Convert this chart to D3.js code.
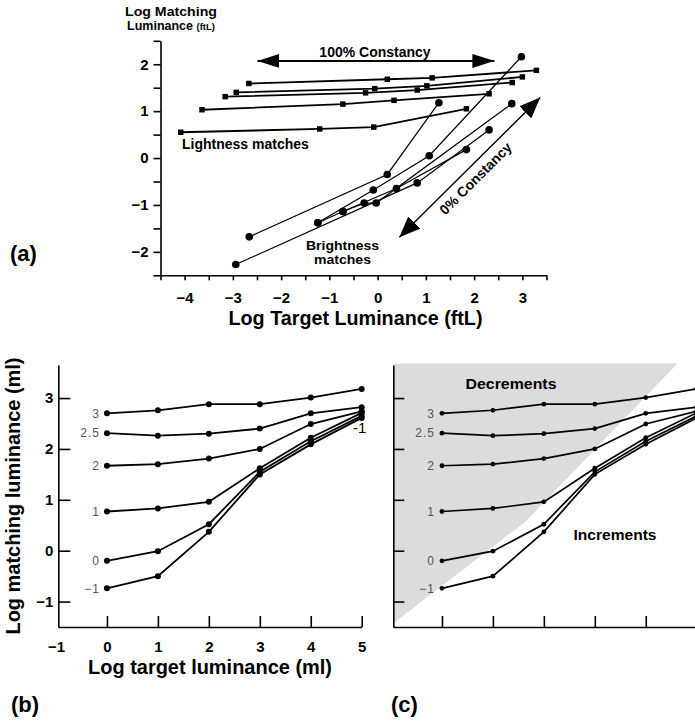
<!DOCTYPE html>
<html>
<head>
<meta charset="utf-8">
<script src="https://cdn.jsdelivr.net/npm/d3@7"></script>
<style>
  body { margin: 0; background: #fff; }
  svg { font-family: "Liberation Sans", Arial, Helvetica, sans-serif; }
</style>
</head>
<body>
<svg id="fig" width="695" height="723"></svg>
<script>
// ---- panel (a): [log target, log match] per run
const lightness1 = [[-4.08, 0.55], [-1.20, 0.62], [-0.08, 0.66], [1.84, 1.05]];
const lightness2 = [[-3.64, 1.03], [-0.72, 1.15], [0.34, 1.23], [2.31, 1.37]];
const lightness3 = [[-3.16, 1.31], [-0.25, 1.39], [0.82, 1.45], [2.79, 1.61]];
const lightness4 = [[-2.93, 1.40], [-0.06, 1.48], [1.02, 1.54], [3.00, 1.73]];
const lightness5 = [[-2.67, 1.59], [0.20, 1.68], [1.13, 1.71], [3.29, 1.87]];

const brightness1 = [[-2.94, -2.27], [0.82, -0.53], [2.31, 0.60]];
const brightness2 = [[-2.66, -1.68], [0.20, -0.35], [1.27, 1.18]];
const brightness3 = [[-1.24, -1.38], [-0.09, -0.68], [1.07, 0.05], [2.98, 2.16]];
const brightness4 = [[-1.24, -1.38], [-0.72, -1.14], [0.39, -0.65], [1.84, 0.18]];
const brightness5 = [[-0.72, -1.14], [-0.28, -0.96], [-0.03, -0.96], [2.78, 1.16]];

const arrow100 = [[-2.49, 2.07], [2.42, 2.07]];
const arrow0 = [[0.45, -1.69], [3.37, 1.29]];

const aTicksX = [-4, -3, -2, -1, 0, 1, 2, 3];
const aMinorX = [-4.5, -3.5, -2.5, -1.5, -0.5, 0.5, 1.5, 2.5, 3.5];
const aTicksY = [-2, -1, 0, 1, 2];
const aMinorY = [-2.5, -1.5, -0.5, 0.5, 1.5, 2.5];

// ---- panels (b) and (c): one curve per background level
const targetLum = [0, 1, 2, 3, 4, 5];
const curveNames = ["3", "2.5", "2", "1", "0", "\u22121"];
const match3 = [2.70, 2.76, 2.88, 2.88, 3.01, 3.18];
const match25 = [2.31, 2.26, 2.30, 2.40, 2.70, 2.82];
const match2 = [1.67, 1.70, 1.81, 2.00, 2.49, 2.74];
const match1 = [0.77, 0.83, 0.96, 1.62, 2.22, 2.71];
const match0 = [-0.20, -0.01, 0.52, 1.55, 2.15, 2.65];
const matchM1 = [-0.74, -0.50, 0.37, 1.50, 2.09, 2.61];

const bTicksX = [-1, 0, 1, 2, 3, 4, 5];
const bTicksY = [-1, 0, 1, 2, 3];
// shaded "decrements" region of (c)
const decrementZone = [[-0.95, 3.68], [4.62, 3.68], [1.64, 0.57], [-0.92, -1.40], [-0.95, -1.45]];

const svg = d3.select("#fig");
const fmt = d3.format("d");

function styleAxis(g, w, size) {
  g.attr("font-family", null).attr("font-size", size);
  g.select(".domain").attr("stroke", "#000").attr("stroke-width", w);
  g.selectAll(".tick line").attr("stroke", "#000").attr("stroke-width", w);
  g.selectAll(".tick text").attr("fill", "#000").attr("font-weight", "bold");
}

// arrow heads
const defs = svg.append("defs");
defs.append("marker").attr("id", "headH")
  .attr("viewBox", "0 0 22 14").attr("refX", 22).attr("refY", 7)
  .attr("markerWidth", 22).attr("markerHeight", 14)
  .attr("markerUnits", "userSpaceOnUse").attr("orient", "auto-start-reverse")
  .append("path").attr("d", "M0,0L22,7L0,14Z").attr("fill", "#000");
defs.append("marker").attr("id", "headD")
  .attr("viewBox", "0 0 21 17").attr("refX", 21).attr("refY", 8.5)
  .attr("markerWidth", 21).attr("markerHeight", 17)
  .attr("markerUnits", "userSpaceOnUse").attr("orient", "auto-start-reverse")
  .append("path").attr("d", "M0,0L21,8.5L0,17Z").attr("fill", "#000");

// ================= (a) =================
const xa = d3.scaleLinear().domain([-4.5, 3.5]).range([160.5, 546.5]);
const ya = d3.scaleLinear().domain([-2.5, 2.5]).range([275.3, 40.8]);
const ga = svg.append("g");

ga.append("g").attr("transform", "translate(0," + ya(-2.5) + ")")
  .call(d3.axisBottom(xa).tickValues(aTicksX.concat(aMinorX)).tickSize(5).tickSizeOuter(0)
    .tickPadding(12).tickFormat(d => aTicksX.includes(d) ? fmt(d) : ""))
  .call(g => styleAxis(g, 1.6, 15));
ga.append("g").attr("transform", "translate(" + xa(-4.5) + ",0)")
  .call(d3.axisLeft(ya).tickValues(aTicksY.concat(aMinorY)).tickSize(7).tickSizeOuter(0)
    .tickPadding(5).tickFormat(d => aTicksY.includes(d) ? fmt(d) : ""))
  .call(g => styleAxis(g, 1.6, 15));

const lineA = d3.line().x(d => xa(d[0])).y(d => ya(d[1]));

[lightness1, lightness2, lightness3, lightness4, lightness5].forEach(run => {
  ga.append("path").attr("d", lineA(run)).attr("fill", "none")
    .attr("stroke", "#000").attr("stroke-width", 1.8);
  ga.selectAll(null).data(run).enter().append("path")
    .attr("d", d3.symbol(d3.symbolSquare, 30))
    .attr("transform", d => "translate(" + xa(d[0]) + "," + ya(d[1]) + ")")
    .attr("fill", "#000");
});

[brightness1, brightness2, brightness3, brightness4, brightness5].forEach(run => {
  ga.append("path").attr("d", lineA(run)).attr("fill", "none")
    .attr("stroke", "#000").attr("stroke-width", 1.2);
  ga.selectAll(null).data(run).enter().append("circle")
    .attr("cx", d => xa(d[0])).attr("cy", d => ya(d[1])).attr("r", 3.8)
    .attr("fill", "#000");
});

ga.append("path").attr("d", lineA(arrow100)).attr("stroke", "#000").attr("stroke-width", 2)
  .attr("marker-start", "url(#headH)").attr("marker-end", "url(#headH)");
ga.append("path").attr("d", lineA(arrow0)).attr("stroke", "#000").attr("stroke-width", 1.4)
  .attr("marker-start", "url(#headD)").attr("marker-end", "url(#headD)");

ga.append("text").attr("x", 375).attr("y", 57).attr("text-anchor", "middle")
  .attr("font-size", 14).attr("font-weight", "bold").text("100% Constancy");
ga.append("text").attr("x", 182).attr("y", 148.5)
  .attr("font-size", 14).attr("font-weight", "bold").text("Lightness matches");
ga.append("text").attr("x", 342.5).attr("y", 250).attr("text-anchor", "middle")
  .attr("font-size", 13).attr("font-weight", "bold")
  .attr("textLength", 73).attr("lengthAdjust", "spacingAndGlyphs").text("Brightness");
ga.append("text").attr("x", 342.5).attr("y", 263.5).attr("text-anchor", "middle")
  .attr("font-size", 13).attr("font-weight", "bold")
  .attr("textLength", 57).attr("lengthAdjust", "spacingAndGlyphs").text("matches");
ga.append("text").attr("transform", "translate(479,182) rotate(-45)").attr("text-anchor", "middle")
  .attr("font-size", 14).attr("font-weight", "bold").text("0% Constancy");

ga.append("text").attr("x", 171).attr("y", 15.5).attr("text-anchor", "middle")
  .attr("font-size", 12.5).attr("font-weight", "bold")
  .attr("textLength", 92).attr("lengthAdjust", "spacingAndGlyphs").text("Log Matching");
const t2 = ga.append("text").attr("x", 171).attr("y", 30).attr("text-anchor", "middle")
  .attr("font-size", 12.5).attr("font-weight", "bold");
t2.append("tspan").text("Luminance ");
t2.append("tspan").attr("font-size", 9.5).text("(ftL)");

ga.append("text").attr("x", 355.5).attr("y", 325).attr("text-anchor", "middle")
  .attr("font-size", 20).attr("font-weight", "bold")
  .attr("textLength", 254).attr("lengthAdjust", "spacingAndGlyphs")
  .text("Log Target Luminance (ftL)");
ga.append("text").attr("x", 10).attr("y", 261)
  .attr("font-size", 22).attr("font-weight", "bold").text("(a)");

// ================= (b) and (c) =================
const yb = d3.scaleLinear().domain([-1.5, 3.65]).range([627, 365]);
const curves = [match3, match25, match2, match1, match0, matchM1];

function drawCurves(g, x, r, w) {
  const line = d3.line().x((d, i) => x(targetLum[i])).y(d => yb(d));
  curves.forEach((vals, k) => {
    g.append("path").attr("d", line(vals)).attr("fill", "none")
      .attr("stroke", "#000").attr("stroke-width", w);
    g.selectAll(null).data(vals).enter().append("circle")
      .attr("cx", (d, i) => x(targetLum[i])).attr("cy", d => yb(d)).attr("r", r)
      .attr("fill", "#000");
    g.append("text").attr("x", x(targetLum[0]) - 7).attr("y", yb(vals[0]))
      .attr("dy", "0.36em").attr("text-anchor", "end")
      .attr("font-size", 12).attr("letter-spacing", 1).attr("fill", "#555")
      .text(curveNames[k]);
  });
}

// (b)
const xb = d3.scaleLinear().domain([-0.955, 5]).range([58.3, 361.7]);
const gb = svg.append("g");
gb.append("g").attr("transform", "translate(0," + yb(-1.5) + ")")
  .call(d3.axisBottom(xb).tickValues(bTicksX).tickSizeInner(-11).tickSizeOuter(0)
    .tickPadding(14).tickFormat(fmt))
  .call(g => styleAxis(g, 1.6, 15))
  .call(g => g.selectAll(".tick line").filter(d => d === -1).remove());
gb.append("g").attr("transform", "translate(" + xb(-0.955) + ",0)")
  .call(d3.axisLeft(yb).tickValues(bTicksY).tickSizeInner(-12).tickSizeOuter(0)
    .tickPadding(5).tickFormat(fmt))
  .call(g => styleAxis(g, 1.6, 15));
drawCurves(gb, xb, 3, 1.8);
gb.append("text").attr("x", xb(5) - 2).attr("y", 433).attr("text-anchor", "middle")
  .attr("font-size", 15).text("-1");
gb.append("text").attr("x", 210).attr("y", 674).attr("text-anchor", "middle")
  .attr("font-size", 20).attr("font-weight", "bold")
  .attr("textLength", 244).attr("lengthAdjust", "spacingAndGlyphs")
  .text("Log target luminance (ml)");
gb.append("text").attr("transform", "translate(20,496) rotate(-90)").attr("text-anchor", "middle")
  .attr("font-size", 20).attr("font-weight", "bold")
  .attr("textLength", 277).attr("lengthAdjust", "spacingAndGlyphs")
  .text("Log matching luminance (ml)");
gb.append("text").attr("x", 11).attr("y", 712)
  .attr("font-size", 22).attr("font-weight", "bold").text("(b)");

// (c)
const xc = d3.scaleLinear().domain([-0.955, 5]).range([393.3, 696.7]);
const gc = svg.append("g");
gc.append("path")
  .attr("d", d3.line().x(d => xc(d[0])).y(d => yb(d[1]))(decrementZone) + "Z")
  .attr("fill", "#dcdcdc");
gc.append("g").attr("transform", "translate(0," + yb(-1.5) + ")")
  .call(d3.axisBottom(xc).tickValues(bTicksX.slice(1)).tickSizeInner(-11).tickSizeOuter(0)
    .tickFormat(""))
  .call(g => styleAxis(g, 1.6, 15));
gc.append("g").attr("transform", "translate(" + xc(-0.955) + ",0)")
  .call(d3.axisLeft(yb).tickValues(bTicksY).tickSizeInner(-11).tickSizeOuter(0)
    .tickFormat(""))
  .call(g => styleAxis(g, 1.6, 15));
drawCurves(gc, xc, 2.4, 1.7);
gc.append("text").attr("x", 511).attr("y", 388.5).attr("text-anchor", "middle")
  .attr("font-size", 15).attr("font-weight", "bold")
  .attr("textLength", 91).attr("lengthAdjust", "spacingAndGlyphs").text("Decrements");
gc.append("text").attr("x", 615).attr("y", 540).attr("text-anchor", "middle")
  .attr("font-size", 15).attr("font-weight", "bold")
  .attr("textLength", 83).attr("lengthAdjust", "spacingAndGlyphs").text("Increments");
gc.append("text").attr("x", 391).attr("y", 712)
  .attr("font-size", 22).attr("font-weight", "bold").text("(c)");
</script>
</body>
</html>
